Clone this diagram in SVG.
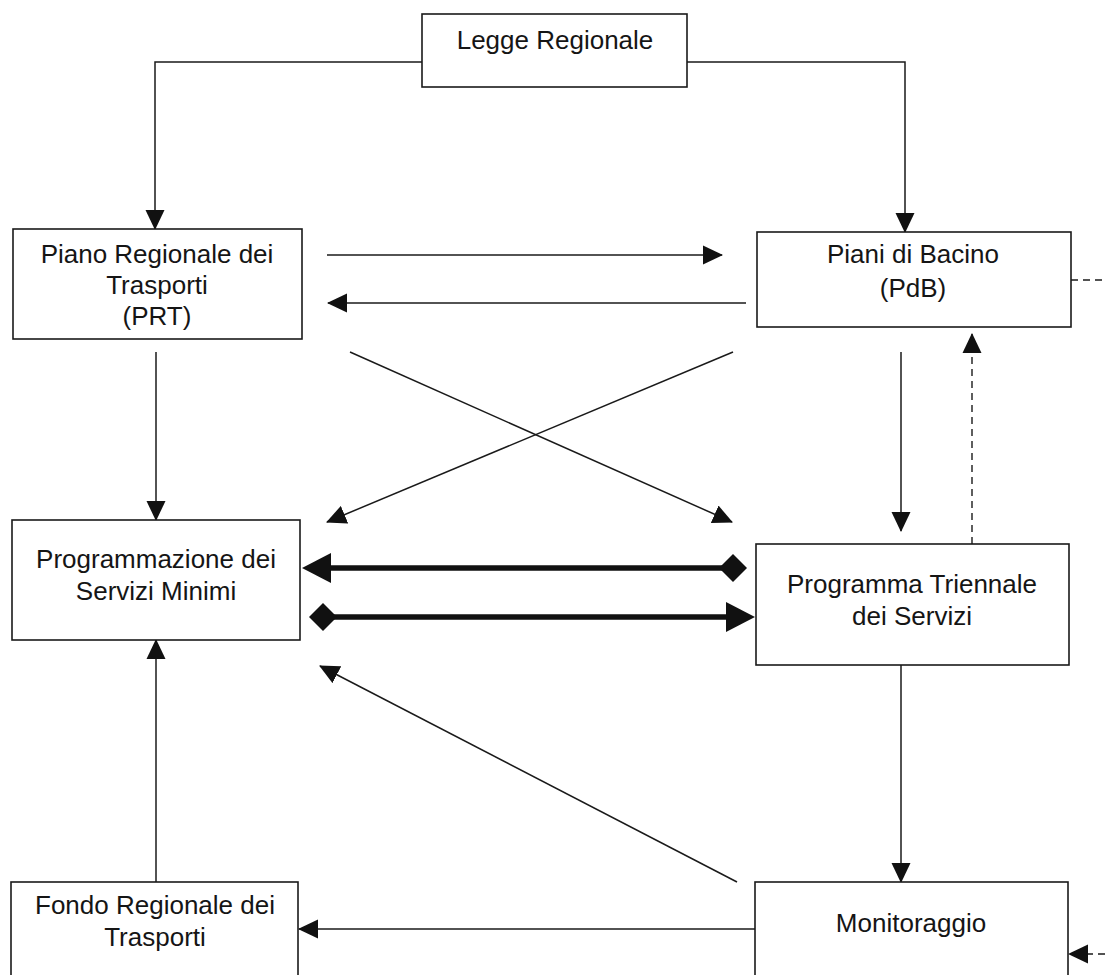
<svg xmlns="http://www.w3.org/2000/svg" width="1105" height="975" viewBox="0 0 1105 975">
<style>
.box{fill:#fff;stroke:#1a1a1a;stroke-width:1.6}
.t{font-family:"Liberation Sans",Arial,sans-serif;font-size:26px;fill:#151515;text-anchor:middle}
.ln{fill:none;stroke:#1a1a1a;stroke-width:1.5}
.thick{fill:none;stroke:#111;stroke-width:5.5}
.dash{fill:none;stroke:#1a1a1a;stroke-width:1.4;stroke-dasharray:7 5}
</style>
<defs>
<marker id="ah" markerUnits="userSpaceOnUse" markerWidth="21" markerHeight="20" refX="19" refY="10" orient="auto">
<path d="M0,0.5 L20,10 L0,19.5 z" fill="#111"/>
</marker>
<marker id="bigah" markerUnits="userSpaceOnUse" markerWidth="30" markerHeight="30" refX="0" refY="15" orient="auto">
<path d="M0,0 L29,15 L0,30 z" fill="#111"/>
</marker>
<marker id="dia" markerUnits="userSpaceOnUse" markerWidth="30" markerHeight="30" refX="14" refY="14" orient="auto">
<path d="M0,14 L14,0 L28,14 L14,28 z" fill="#111"/>
</marker>
</defs>
<rect width="1105" height="975" fill="#fff"/>
<g id="connectors">
<polyline class="ln" points="422,62 155,62 155,229" marker-end="url(#ah)"/>
<polyline class="ln" points="687,62 905,62 905,232" marker-end="url(#ah)"/>
<line class="ln" x1="327" y1="255" x2="722" y2="255" marker-end="url(#ah)"/>
<line class="ln" x1="746" y1="303" x2="328" y2="303" marker-end="url(#ah)"/>
<line class="ln" x1="156" y1="352" x2="156" y2="520" marker-end="url(#ah)"/>
<line class="ln" x1="350" y1="352" x2="732" y2="522" marker-end="url(#ah)"/>
<line class="ln" x1="733" y1="352" x2="327" y2="522" marker-end="url(#ah)"/>
<line class="ln" x1="901" y1="352" x2="901" y2="531" marker-end="url(#ah)"/>
<line class="dash" x1="972" y1="544" x2="972" y2="334" marker-end="url(#ah)"/>
<line class="dash" x1="1071" y1="280" x2="1105" y2="280"/>
<line class="thick" x1="733" y1="568" x2="331" y2="568" marker-start="url(#dia)" marker-end="url(#bigah)"/>
<line class="thick" x1="323" y1="617" x2="726" y2="617" marker-start="url(#dia)" marker-end="url(#bigah)"/>
<line class="ln" x1="156" y1="882" x2="156" y2="640" marker-end="url(#ah)"/>
<line class="ln" x1="737" y1="882" x2="320" y2="666" marker-end="url(#ah)"/>
<line class="ln" x1="901" y1="665" x2="901" y2="882" marker-end="url(#ah)"/>
<line class="ln" x1="755" y1="929" x2="299" y2="929" marker-end="url(#ah)"/>
<line class="dash" x1="1105" y1="954" x2="1069" y2="954" stroke-dasharray="6 4" marker-end="url(#ah)"/>
</g>
<g id="legge">
<rect class="box" x="422" y="14" width="265" height="73"/>
<text class="t" x="555" y="49">Legge Regionale</text>
</g>
<g id="prt">
<rect class="box" x="13" y="229" width="289" height="110"/>
<text class="t" x="157" y="263">Piano Regionale dei</text>
<text class="t" x="157" y="294">Trasporti</text>
<text class="t" x="157" y="325">(PRT)</text>
</g>
<g id="pdb">
<rect class="box" x="757" y="232" width="314" height="95"/>
<text class="t" x="913" y="263">Piani di Bacino</text>
<text class="t" x="913" y="297">(PdB)</text>
</g>
<g id="psm">
<rect class="box" x="12" y="520" width="288" height="120"/>
<text class="t" x="156" y="568">Programmazione dei</text>
<text class="t" x="156" y="600">Servizi Minimi</text>
</g>
<g id="pts">
<rect class="box" x="756" y="544" width="313" height="121"/>
<text class="t" x="912" y="593">Programma Triennale</text>
<text class="t" x="912" y="625">dei Servizi</text>
</g>
<g id="fondo">
<rect class="box" x="11" y="882" width="287" height="110"/>
<text class="t" x="155" y="914">Fondo Regionale dei</text>
<text class="t" x="155" y="946">Trasporti</text>
</g>
<g id="monit">
<rect class="box" x="755" y="882" width="313" height="110"/>
<text class="t" x="911" y="932">Monitoraggio</text>
</g>
</svg>
